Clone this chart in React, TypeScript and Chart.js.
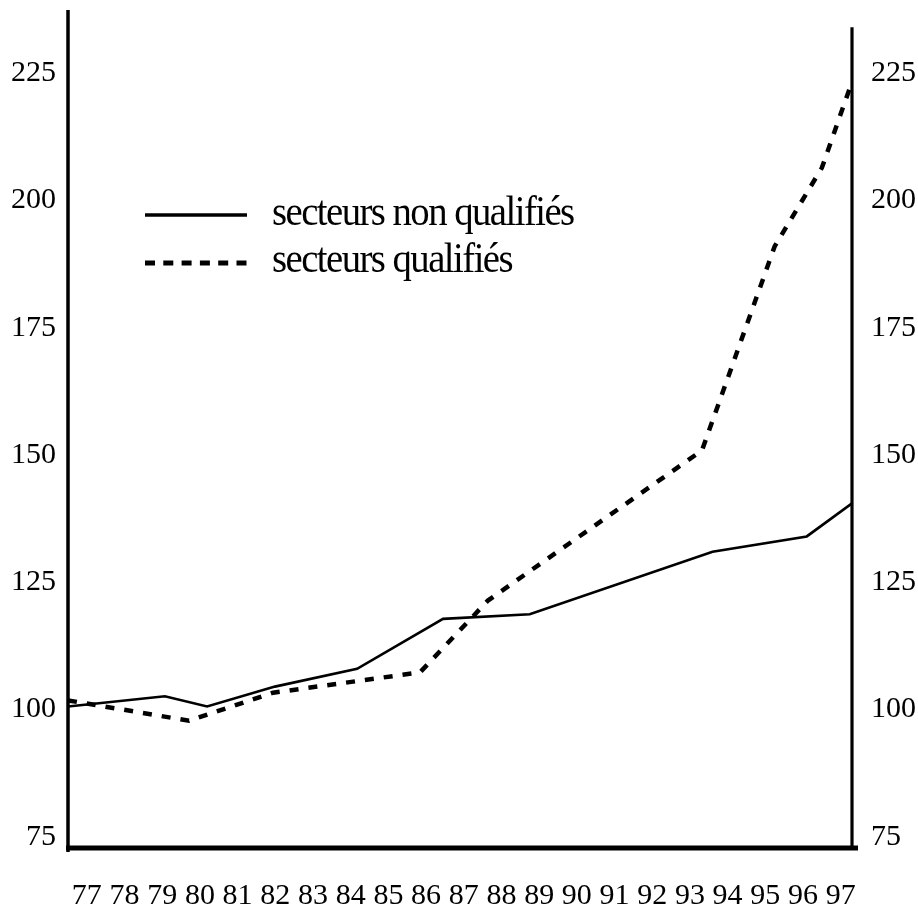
import React, { useEffect, useRef } from "react";
import { Chart, registerables } from "chart.js";

Chart.register(...registerables);

// ---- data ----
const yearTicks = [77, 78, 79, 80, 81, 82, 83, 84, 85, 86, 87, 88, 89, 90, 91, 92, 93, 94, 95, 96, 97];
const valueTicks = [75, 100, 125, 150, 175, 200, 225];
const nonQualYears = [76.5, 79.07, 80.19, 81.99, 84.17, 86.45, 88.75, 93.6, 96.1, 97.3];
const nonQualValues = [100.6, 102.6, 100.6, 104.5, 108.0, 117.8, 118.7, 131.0, 134.0, 140.5];
const qualYears = [76.5, 79.71, 81.94, 85.84, 87.64, 93.32, 95.25, 96.5, 97.3];
const qualValues = [101.8, 97.8, 103.3, 107.3, 121.4, 150.9, 191.0, 206.4, 223.3];
const seriesLabels = ["secteurs non qualifiés", "secteurs qualifiés"];

const FONT = "'Liberation Serif', 'Times New Roman', serif";

const framePlugin = {
  id: "frameAndLegend",
  afterDraw(chart: any) {
    const { ctx, chartArea } = chart;
    const ys = chart.scales.y;
    ctx.save();
    ctx.strokeStyle = "#000";
    ctx.lineCap = "butt";
    // left axis
    ctx.lineWidth = 3.5;
    ctx.beginPath();
    ctx.moveTo(chartArea.left, chartArea.top);
    ctx.lineTo(chartArea.left, chartArea.bottom + 4);
    ctx.stroke();
    // right axis
    ctx.lineWidth = 3.2;
    ctx.beginPath();
    ctx.moveTo(chartArea.right, ys.getPixelForValue(234));
    ctx.lineTo(chartArea.right, chartArea.bottom + 2);
    ctx.stroke();
    // bottom axis
    ctx.lineWidth = 5;
    ctx.beginPath();
    ctx.moveTo(chartArea.left - 2, chartArea.bottom);
    ctx.lineTo(chartArea.right + 6, chartArea.bottom);
    ctx.stroke();

    // legend
    const lx0 = chartArea.left + 77;
    const lx1 = chartArea.left + 179;
    const tx = chartArea.left + 204;
    const rows = [
      { y: 215, base: 225, dash: [] as number[], w: 3.5 },
      { y: 263, base: 272, dash: [10, 8.3], w: 5 },
    ];
    rows.forEach((r, i) => {
      ctx.lineWidth = r.w;
      ctx.setLineDash(r.dash);
      ctx.beginPath();
      ctx.moveTo(lx0, r.y);
      ctx.lineTo(lx1, r.y);
      ctx.stroke();
      ctx.setLineDash([]);
      ctx.save();
      ctx.translate(tx, r.base);
      ctx.scale(0.9, 1);
      ctx.fillStyle = "#000";
      ctx.font = `43px ${FONT}`;
      (ctx as any).letterSpacing = "-1.7px";
      ctx.textAlign = "left";
      ctx.textBaseline = "alphabetic";
      ctx.fillText(seriesLabels[i], 0, 0);
      ctx.restore();
    });
    ctx.restore();
  },
};

export default function App() {
  const canvasRef = useRef<HTMLCanvasElement | null>(null);

  useEffect(() => {
    if (!canvasRef.current) return;
    Chart.defaults.font.family = FONT;
    Chart.defaults.font.size = 30;
    Chart.defaults.color = "#000";

    const yTickSetter = (scale: any) => {
      scale.ticks = valueTicks.map((v) => ({ value: v }));
    };

    const chart = new Chart(canvasRef.current, {
      type: "line",
      data: {
        datasets: [
          {
            label: seriesLabels[0],
            data: nonQualYears.map((x, i) => ({ x, y: nonQualValues[i] })),
            borderColor: "#000",
            borderWidth: 2.6,
            pointRadius: 0,
            tension: 0,
            fill: false,
            yAxisID: "y",
          },
          {
            label: seriesLabels[1],
            data: qualYears.map((x, i) => ({ x, y: qualValues[i] })),
            borderColor: "#000",
            borderWidth: 4.5,
            borderDash: [9, 10],
            borderCapStyle: "butt",
            pointRadius: 0,
            tension: 0,
            fill: false,
            yAxisID: "y",
          },
        ],
      },
      options: {
        animation: false,
        responsive: false,
        maintainAspectRatio: false,
        devicePixelRatio: 1,
        layout: { padding: { top: 10, left: 0, right: 0, bottom: 0 } },
        plugins: { legend: { display: false }, tooltip: { enabled: false } },
        scales: {
          x: {
            type: "linear",
            min: 76.5,
            max: 97.3,
            grid: { display: false, drawTicks: false, tickLength: 0 },
            border: { display: false },
            afterBuildTicks: (scale: any) => {
              scale.ticks = yearTicks.map((v) => ({ value: v }));
            },
            afterFit: (scale: any) => {
              scale.height = 60;
              scale.paddingLeft = 0;
              scale.paddingRight = 0;
              scale.paddingTop = 0;
              scale.paddingBottom = 0;
            },
            ticks: {
              padding: 30,
              maxRotation: 0,
              autoSkip: false,
              callback: (v: any) => String(v),
            },
          },
          y: {
            type: "linear",
            position: "left",
            min: 72.8,
            max: 237.4,
            grid: { display: false, drawTicks: false, tickLength: 0 },
            border: { display: false },
            afterBuildTicks: yTickSetter,
            afterFit: (scale: any) => {
              scale.width = 68;
              scale.paddingTop = 0;
              scale.paddingBottom = 0;
              scale.paddingLeft = 0;
              scale.paddingRight = 0;
            },
            ticks: { padding: 12, callback: (v: any) => String(v) },
          },
          y2: {
            type: "linear",
            position: "right",
            min: 72.8,
            max: 237.4,
            grid: { display: false, drawTicks: false, tickLength: 0 },
            border: { display: false },
            afterBuildTicks: yTickSetter,
            afterFit: (scale: any) => {
              scale.width = 66;
              scale.paddingTop = 0;
              scale.paddingBottom = 0;
              scale.paddingLeft = 0;
              scale.paddingRight = 0;
            },
            ticks: { padding: 19, callback: (v: any) => String(v) },
          },
        },
      },
      plugins: [framePlugin],
    } as any);

    return () => chart.destroy();
  }, []);

  return (
    <div style={{ position: "fixed", left: 0, top: 0, width: 918, height: 908, background: "#fff" }}>
      <canvas ref={canvasRef} width={918} height={908} style={{ width: 918, height: 908, display: "block" }} />
    </div>
  );
}
